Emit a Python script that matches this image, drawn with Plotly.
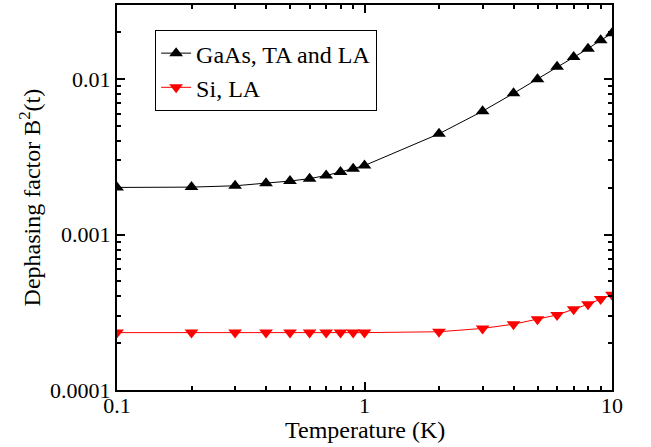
import plotly.graph_objects as go

temperature = [0.1, 0.2, 0.3, 0.4, 0.5, 0.6, 0.7, 0.8, 0.9, 1, 2, 3, 4, 5, 6, 7, 8, 9, 10]
gaas_b2 = [0.00201, 0.00202, 0.00206, 0.00214, 0.00221, 0.00229, 0.00240, 0.00253, 0.00265, 0.00278,
           0.00445, 0.00622, 0.0081, 0.0100, 0.0120, 0.0139, 0.0157, 0.0178, 0.0197]
si_b2 = [0.000234, 0.000234, 0.000234, 0.000234, 0.000234, 0.000234, 0.000234, 0.000234, 0.000234, 0.000234,
         0.000237, 0.000249, 0.000265, 0.000285, 0.000304, 0.000331, 0.000356, 0.000385, 0.000410]

x_ticks = [0.1, 1, 10]
x_tick_labels = ["0.1", "1", "10"]
y_ticks = [0.0001, 0.001, 0.01]
y_tick_labels = ["0.0001", "0.001", "0.01"]
x_minor = [m * d for d in (0.1, 1) for m in range(2, 10)]
y_minor = [m * d for d in (0.0001, 0.001, 0.01) for m in range(2, 10)]
x_title = "Temperature (K)"
y_title = "Dephasing factor B<sup>2</sup>(t)"

FONT = "Liberation Serif, Times New Roman, serif"
FS_TICK = 22
FS_TITLE = 24

fig = go.Figure()
fig.add_trace(go.Scatter(
    x=temperature, y=gaas_b2, mode="lines+markers", name="GaAs, TA and LA",
    line=dict(color="black", width=1),
    marker=dict(symbol="triangle-up", size=12, color="black"),
))
fig.add_trace(go.Scatter(
    x=temperature, y=si_b2, mode="lines+markers", name="Si, LA",
    line=dict(color="red", width=1),
    marker=dict(symbol="triangle-down", size=12, color="red"),
))

axis_common = dict(
    type="log", showgrid=False, zeroline=False, automargin=False,
    showline=True, linecolor="black", linewidth=2, mirror="ticks",
    ticks="inside", ticklen=8, tickwidth=2, tickcolor="black",
    tickfont=dict(family=FONT, size=FS_TICK, color="black"),
)

fig.update_xaxes(
    **axis_common,
    range=[-1, 1], tickmode="array", tickvals=x_ticks, ticktext=x_tick_labels,
    ticklabelstandoff=-5,
    minor=dict(tickmode="array", tickvals=x_minor, ticks="inside", ticklen=4, tickwidth=1.5, tickcolor="black"),
)
fig.update_yaxes(
    **axis_common,
    range=[-4, -1.523], tickmode="array", tickvals=y_ticks, ticktext=y_tick_labels,
    minor=dict(tickmode="array", tickvals=y_minor, ticks="inside", ticklen=4, tickwidth=1.5, tickcolor="black"),
)

fig.add_annotation(text=x_title, xref="paper", yref="paper", x=0.5, y=-0.103,
                   xanchor="center", yanchor="middle", showarrow=False,
                   font=dict(family=FONT, size=FS_TITLE, color="black"))
fig.add_annotation(text=y_title, xref="paper", yref="paper", x=-0.176, y=0.5,
                   xanchor="center", yanchor="middle", showarrow=False, textangle=-90,
                   font=dict(family=FONT, size=FS_TITLE, color="black"))

fig.update_layout(
    width=651, height=447,
    margin=dict(l=117, r=39, t=5, b=57),
    paper_bgcolor="white", plot_bgcolor="white",
    font=dict(family=FONT, size=FS_TITLE, color="black"),
    showlegend=True,
    legend=dict(
        x=0.077, y=0.935, xanchor="left", yanchor="top",
        bgcolor="white", bordercolor="black", borderwidth=1,
        font=dict(family=FONT, size=FS_TITLE, color="black"),
        tracegroupgap=0, itemwidth=30,
    ),
)

fig.write_html("out.html", config={"displayModeBar": False},
               post_script="document.body.style.margin='0';")
